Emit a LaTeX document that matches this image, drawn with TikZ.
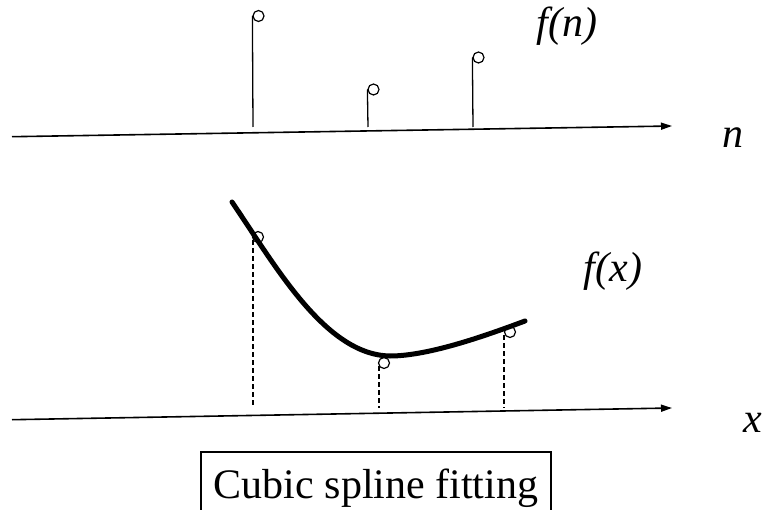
\documentclass[tikz,border=0pt]{standalone}
\usepackage{fontspec}
\setmainfont{Liberation Serif}
\usetikzlibrary{arrows.meta}
\begin{document}
\begin{tikzpicture}[x=1bp,y=-1bp,
  axisline/.style={line width=1.6bp,-{Triangle[length=11bp,width=7bp]}},
  stemline/.style={line width=1.3bp},
  sample/.style={circle,draw,line width=1.2bp,minimum size=11bp,inner sep=0pt},
  dropline/.style={line width=1.2bp,dash pattern=on 5bp off 3bp},
  splinecurve/.style={line width=5bp,line cap=round},
  lbl/.style={font=\fontsize{42bp}{48bp}\selectfont\itshape,anchor=base,inner sep=0pt},
  captionbox/.style={draw,line width=1.2bp,anchor=base,inner sep=0pt,text height=46bp,text depth=16bp,minimum width=350bp,font=\fontsize{42bp}{50bp}\selectfont}]
\useasboundingbox (0,0) rectangle (767,510);
% top axis
\coordinate (t0) at (12,136.7);
\coordinate (t1) at (672,126);
\draw[axisline] (t0) -- (t1);
% samples
\node[sample] (s1) at (258.5,16) {};
\node[sample] (s2) at (373.5,89.5) {};
\node[sample] (s3) at (478.5,57.5) {};
\coordinate (sf1) at (253,127);
\coordinate (sf2) at (368,127);
\coordinate (sf3) at (473,127);
\draw[stemline] (s1.west) -- (sf1);
\draw[stemline] (s2.west) -- (sf2);
\draw[stemline] (s3.west) -- (sf3);
\node[lbl] (fn) at (567,37) {f(n)};
\node[lbl] (nl) at (733,148) {n};
% bottom axis
\coordinate (b0) at (12,419.7);
\coordinate (b1) at (672,408);
\draw[axisline] (b0) -- (b1);
% fitted points
\node[sample] (p1) at (258,237) {};
\node[sample] (p2) at (384,363) {};
\node[sample] (p3) at (510,332) {};
\coordinate (pf1) at (253,408);
\coordinate (pf2) at (379,408);
\coordinate (pf3) at (504,408);
\draw[dropline] (253,240) -- (pf1);
\draw[dropline] (379,366) -- (pf2);
\draw[dropline] (504,335) -- (pf3);
% spline
\coordinate (c0) at (232,202);
\coordinate (cm) at (390,356);
\coordinate (c1) at (525,321);
\draw[splinecurve] (c0) .. controls (275,265) and (325,355) .. (cm)
                        .. controls (430,356) and (490,334) .. (c1);
\node[lbl] (fx) at (613,282) {f(x)};
\node[lbl] (xl) at (753,432) {x};
% caption
\node[captionbox] (cap) at (376,498) {Cubic spline fitting};
\end{tikzpicture}
\end{document}
